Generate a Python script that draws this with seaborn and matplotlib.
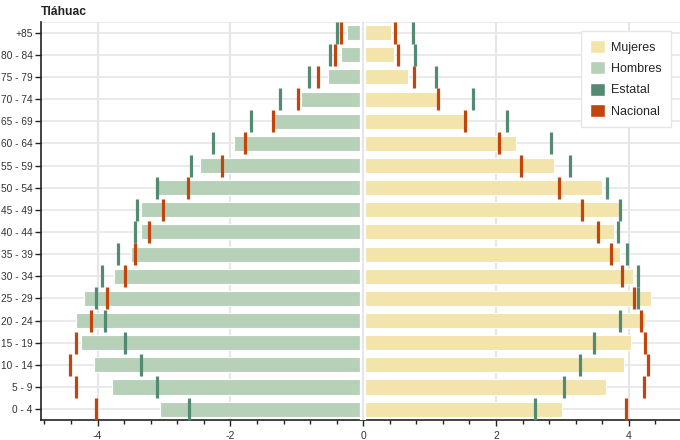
import numpy as np
import pandas as pd
import seaborn as sns
import matplotlib.pyplot as plt
from matplotlib.patches import Patch
from matplotlib.ticker import MultipleLocator

# ----------------------------
# DATA (% of population by age group)
# ----------------------------

grupos = ["+85", "80 - 84", "75 - 79", "70 - 74", "65 - 69", "60 - 64",
          "55 - 59", "50 - 54", "45 - 49", "40 - 44", "35 - 39", "30 - 34",
          "25 - 29", "20 - 24", "15 - 19", "10 - 14", "5 - 9", "0 - 4"]

mujeres = [0.42, 0.47, 0.67, 1.11, 1.51, 2.30, 2.87, 3.60, 3.85, 3.77,
           3.87, 4.06, 4.34, 4.25, 4.03, 3.93, 3.65, 3.00]
hombres = [-0.25, -0.33, -0.53, -0.93, -1.35, -1.95, -2.46, -3.11, -3.34, -3.34,
           -3.50, -3.75, -4.21, -4.33, -4.25, -4.06, -3.79, -3.06]

estatal_m = [0.75, 0.78, 1.10, 1.66, 2.16, 2.83, 3.12, 3.67, 3.86, 3.84,
             3.97, 4.14, 4.14, 3.87, 3.47, 3.26, 3.02, 2.58]
estatal_h = [-0.40, -0.50, -0.81, -1.25, -1.69, -2.26, -2.59, -3.10, -3.40, -3.44,
             -3.69, -3.94, -4.03, -3.89, -3.59, -3.35, -3.10, -2.62]

nacional_m = [0.48, 0.52, 0.77, 1.12, 1.54, 2.04, 2.38, 2.95, 3.29, 3.53,
              3.73, 3.89, 4.08, 4.18, 4.25, 4.29, 4.23, 3.95]
nacional_h = [-0.34, -0.42, -0.68, -0.98, -1.36, -1.78, -2.13, -2.64, -3.02, -3.22,
              -3.43, -3.59, -3.86, -4.10, -4.33, -4.41, -4.32, -4.03]

titulo = "Tláhuac"

C_MUJ = "#f2e4ab"
C_HOM = "#b6d1b8"
C_EST = "#528a72"
C_NAC = "#c2450e"

df = pd.DataFrame({"grupo": grupos, "mujeres": mujeres, "hombres": hombres})
pos = np.arange(len(grupos))

# ----------------------------
# PLOT
# ----------------------------

sns.set_style("white")
plt.rcParams["font.family"] = ["Liberation Sans", "DejaVu Sans"]

fig = plt.figure(figsize=(6.8, 4.4), dpi=100)
ax = fig.add_axes([0.0605, 0.045, 0.9395, 0.906])

# grid
for p in pos:
    ax.axhline(p, color="#e6e6e6", lw=1.2, zorder=0)
for gx in [-4, -2, 2, 4]:
    ax.axvline(gx, color="#e6e6e6", lw=1.5, zorder=0)

sns.barplot(data=df, x="mujeres", y="grupo", order=grupos, color=C_MUJ,
            saturation=1, width=0.68, edgecolor="white", linewidth=0.8,
            ax=ax, zorder=2)
sns.barplot(data=df, x="hombres", y="grupo", order=grupos, color=C_HOM,
            saturation=1, width=0.68, edgecolor="white", linewidth=0.8,
            ax=ax, zorder=2)

# gap at zero
ax.axvline(0, color="white", lw=4.5, zorder=3)
ax.axvline(0, color="#e6e6e6", lw=1.5, zorder=3)

for vals, col in [(estatal_m, C_EST), (estatal_h, C_EST),
                  (nacional_m, C_NAC), (nacional_h, C_NAC)]:
    sns.scatterplot(x=vals, y=pos, marker="|", s=250, linewidth=2.3,
                    color=col, ax=ax, zorder=4, legend=False)

ax.set_xlim(-4.85, 4.77)
ax.set_ylim(len(grupos) - 0.5, -0.5)
ax.set_xlabel("")
ax.set_ylabel("")

ax.xaxis.set_minor_locator(MultipleLocator(0.4))
ax.set_xticks([-4, -2, 0, 2, 4])
ax.set_xticklabels(["-4", "-2", "0", "2", "4"])
ax.set_yticks(pos)
ax.set_yticklabels(grupos)
ax.tick_params(axis="both", which="major", length=4.5, width=1, color="#222222",
               labelsize=7.3, labelcolor="#333333", pad=1.5, bottom=True, left=True)
ax.tick_params(axis="x", which="major", pad=3, labelsize=7.5)
ax.tick_params(axis="x", which="minor", length=3, width=1, color="#222222",
               bottom=True)

for s in ["top", "right"]:
    ax.spines[s].set_visible(False)
for s in ["left", "bottom"]:
    ax.spines[s].set_color("#222222")
    ax.spines[s].set_linewidth(1.2)
ax.axhline(-0.5, color="#e6e6e6", lw=1.2, zorder=0)

ax.set_title(titulo, loc="left", fontsize=8.7, fontweight="bold", pad=5,
             color="#222222")

handles = [Patch(facecolor=C_MUJ, label="Mujeres"),
           Patch(facecolor=C_HOM, label="Hombres"),
           Patch(facecolor=C_EST, label="Estatal"),
           Patch(facecolor=C_NAC, label="Nacional")]
leg = ax.legend(handles=handles, loc="upper right", bbox_to_anchor=(0.986, 0.977),
                fontsize=9, frameon=True, fancybox=False, handlelength=1.2,
                handleheight=1.2, handletextpad=0.45, labelspacing=0.62,
                borderpad=0.75, borderaxespad=0, framealpha=1)
leg.get_frame().set_edgecolor("#e6e6e6")
leg.get_frame().set_linewidth(1)

fig.savefig("out.png", dpi=100)
